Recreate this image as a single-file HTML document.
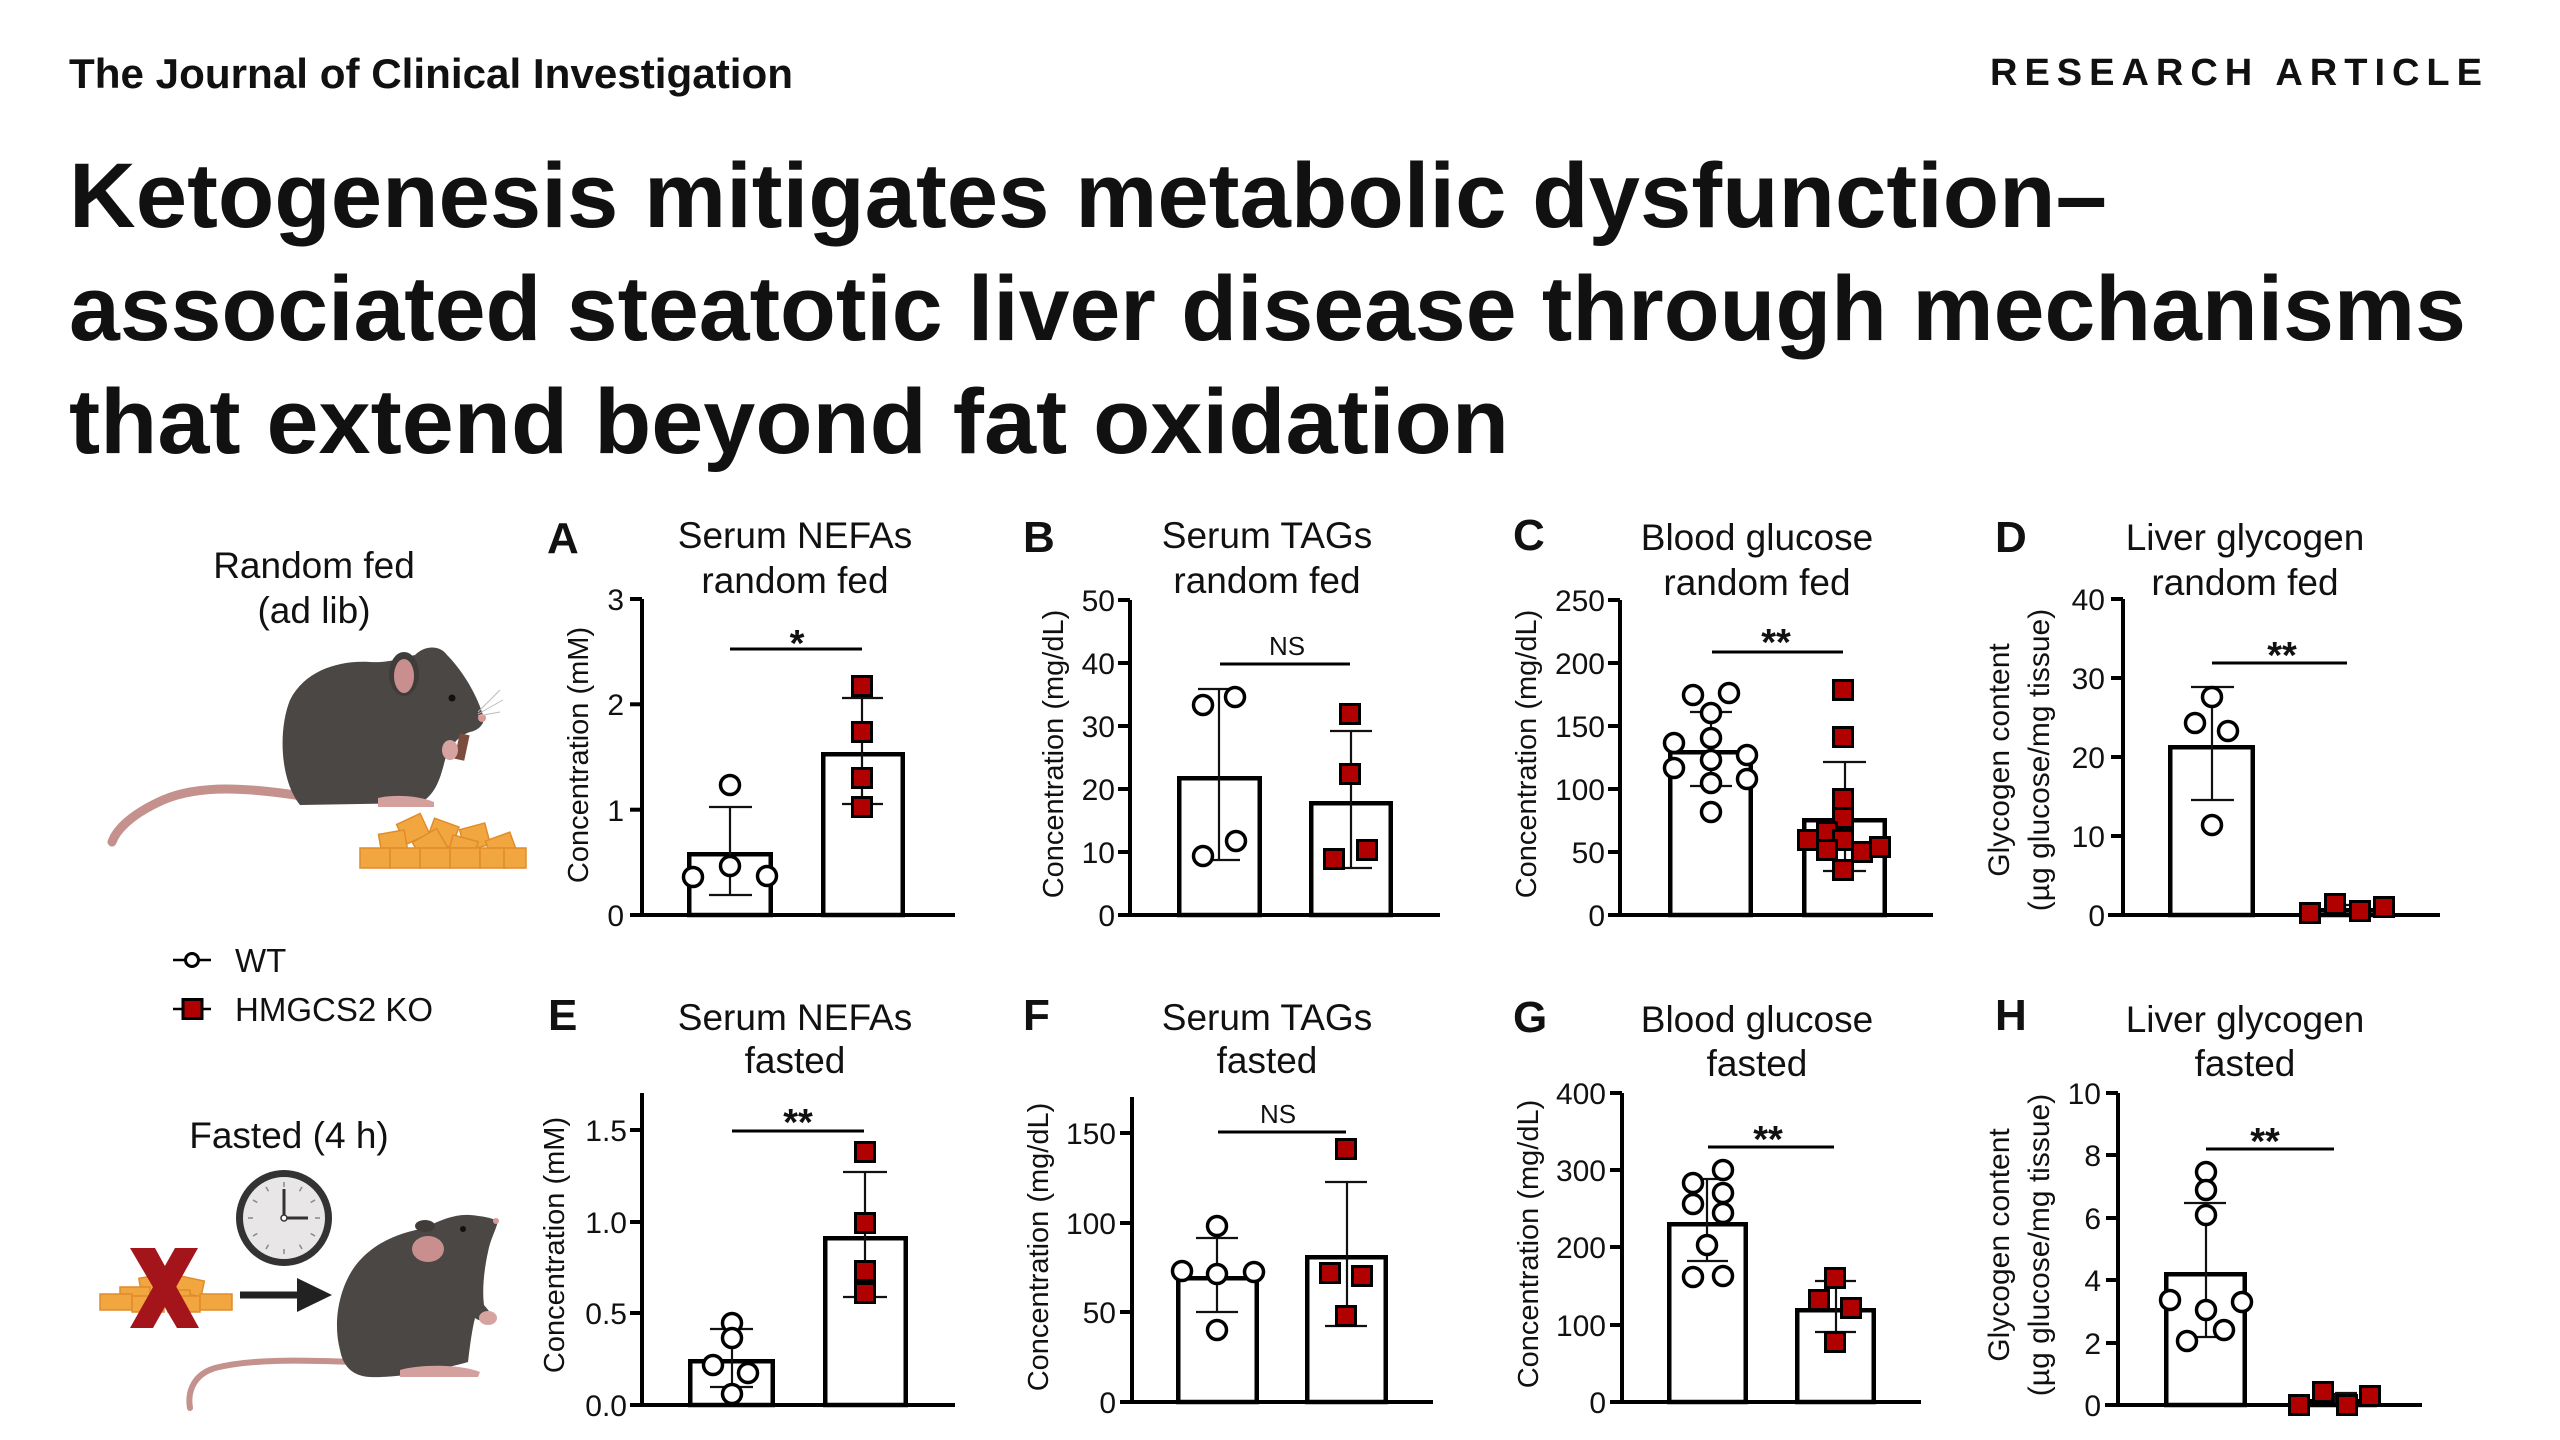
<!DOCTYPE html>
<html><head><meta charset="utf-8"><style>
html,body{margin:0;padding:0;background:#fff;}
svg{display:block;}
text{font-family:"Liberation Sans",Arial,sans-serif;fill:#111;}
</style></head><body>
<svg width="2560" height="1440" viewBox="0 0 2560 1440" xmlns="http://www.w3.org/2000/svg">
<rect width="2560" height="1440" fill="#fff"/>
<!-- Header -->
<text x="69" y="88" font-size="42" font-weight="bold" textLength="724" lengthAdjust="spacingAndGlyphs" fill="#1a1a1a">The Journal of Clinical Investigation</text>
<text x="1990" y="85" font-size="38" font-weight="bold" textLength="492" lengthAdjust="spacing" fill="#1a1a1a">RESEARCH ARTICLE</text>
<text x="69" y="227" font-size="92" font-weight="bold" textLength="2038" lengthAdjust="spacingAndGlyphs" fill="#1a1a1a">Ketogenesis mitigates metabolic dysfunction–</text>
<text x="69" y="340" font-size="92" font-weight="bold" textLength="2397" lengthAdjust="spacingAndGlyphs" fill="#1a1a1a">associated steatotic liver disease through mechanisms</text>
<text x="69" y="453" font-size="92" font-weight="bold" textLength="1440" lengthAdjust="spacingAndGlyphs" fill="#1a1a1a">that extend beyond fat oxidation</text>

<!-- Left column: random fed -->
<text x="314" y="578" font-size="37" text-anchor="middle">Random fed</text>
<text x="314" y="623" font-size="37" text-anchor="middle">(ad lib)</text>
<path d="M302,796 C250,788 200,784 163,800 C134,813 117,828 112,842" fill="none" stroke="#c4918c" stroke-width="9" stroke-linecap="round"/>
<path d="M300,805 C280,780 278,730 290,700 C305,670 340,660 370,662 C390,663 400,658 415,655 C425,645 440,645 447,655 C460,668 475,690 483,715 C486,722 480,730 470,732 C460,735 450,745 445,760 C440,780 435,795 420,803 Z" fill="#4a4745"/>
<ellipse cx="404" cy="674" rx="15" ry="22" fill="#3f3c3a"/>
<ellipse cx="404" cy="676" rx="10" ry="17" fill="#c98f8e"/>
<circle cx="452" cy="698" r="3.5" fill="#111"/>
<circle cx="482" cy="718" r="4" fill="#d89a98"/>
<g stroke="#bbb" stroke-width="1"><line x1="478" y1="712" x2="500" y2="690"/><line x1="478" y1="714" x2="503" y2="700"/><line x1="478" y1="716" x2="500" y2="712"/></g>
<rect x="457" y="734" width="10" height="26" fill="#7b4c3c" transform="rotate(12 462 747)"/>
<ellipse cx="450" cy="750" rx="8" ry="10" fill="#d7a3a0"/>
<path d="M378,798 C395,794 420,796 434,802 L434,807 L378,807 Z" fill="#d3a09d"/>
<g fill="#f2a640" stroke="#e08c2a" stroke-width="1.5">
<rect x="400" y="818" width="26" height="22" transform="rotate(-25 413 829)"/>
<rect x="430" y="822" width="26" height="22" transform="rotate(20 443 833)"/>
<rect x="462" y="826" width="26" height="22" transform="rotate(-15 475 837)"/>
<rect x="380" y="832" width="26" height="20" transform="rotate(-10 393 842)"/>
<rect x="416" y="834" width="28" height="22" transform="rotate(-30 430 845)"/>
<rect x="450" y="838" width="26" height="20" transform="rotate(15 463 848)"/>
<rect x="488" y="836" width="26" height="20" transform="rotate(-20 501 846)"/>
<rect x="360" y="848" width="30" height="20"/>
<rect x="390" y="848" width="30" height="20"/>
<rect x="420" y="848" width="30" height="20"/>
<rect x="450" y="848" width="30" height="20"/>
<rect x="480" y="848" width="26" height="20"/>
<rect x="504" y="848" width="22" height="20"/>
</g>

<!-- Legend -->
<line x1="173" y1="960" x2="211" y2="960" stroke="#000" stroke-width="2.5"/>
<circle cx="192" cy="960" r="6.5" fill="#fff" stroke="#000" stroke-width="3"/>
<text x="235" y="972" font-size="33">WT</text>
<line x1="173" y1="1009" x2="211" y2="1009" stroke="#000" stroke-width="2.5"/>
<rect x="183" y="999.5" width="19" height="19" fill="#b00000" stroke="#000" stroke-width="3"/>
<text x="235" y="1021" font-size="33">HMGCS2 KO</text>

<!-- Fasted -->
<text x="289" y="1148" font-size="37" text-anchor="middle">Fasted (4 h)</text>
<circle cx="284" cy="1218" r="44.5" fill="#e8e6e6" stroke="#333" stroke-width="7"/>
<g stroke="#888" stroke-width="1.5">
<line x1="284" y1="1182" x2="284" y2="1187"/><line x1="284" y1="1249" x2="284" y2="1254"/>
<line x1="248" y1="1218" x2="253" y2="1218"/><line x1="315" y1="1218" x2="320" y2="1218"/>
<line x1="302" y1="1187" x2="299.5" y2="1191.3"/><line x1="315" y1="1200" x2="310.7" y2="1202.5"/>
<line x1="315" y1="1236" x2="310.7" y2="1233.5"/><line x1="302" y1="1249" x2="299.5" y2="1244.7"/>
<line x1="266" y1="1249" x2="268.5" y2="1244.7"/><line x1="253" y1="1236" x2="257.3" y2="1233.5"/>
<line x1="253" y1="1200" x2="257.3" y2="1202.5"/><line x1="266" y1="1187" x2="268.5" y2="1191.3"/>
</g>
<line x1="284" y1="1218" x2="284" y2="1189" stroke="#333" stroke-width="3"/>
<line x1="284" y1="1218" x2="308" y2="1218" stroke="#333" stroke-width="3"/>
<circle cx="284" cy="1218" r="3" fill="#fff" stroke="#333" stroke-width="1.5"/>
<g fill="#f2a640" stroke="#e08c2a" stroke-width="1.5">
<rect x="140" y="1276" width="26" height="16" transform="rotate(-10 153 1284)"/>
<rect x="175" y="1278" width="28" height="16" transform="rotate(12 189 1286)"/>
<rect x="120" y="1287" width="30" height="16"/>
<rect x="160" y="1290" width="30" height="16"/>
<rect x="100" y="1294" width="32" height="16"/>
<rect x="132" y="1296" width="32" height="16"/>
<rect x="168" y="1296" width="32" height="16"/>
<rect x="200" y="1294" width="32" height="16"/>
</g>
<polygon points="130,1248 155,1248 199,1328 177,1328" fill="#a3141b"/>
<polygon points="175,1248 198,1248 153,1328 130,1328" fill="#a3141b"/>
<rect x="240" y="1291.5" width="60" height="7" fill="#222"/>
<polygon points="297,1278 332,1295 297,1312" fill="#222"/>
<path d="M352,1362 C300,1360 250,1359 215,1368 C195,1374 187,1390 190,1408" fill="none" stroke="#c4918c" stroke-width="6" stroke-linecap="round"/>
<path d="M340,1350 C332,1320 340,1280 362,1258 C382,1238 405,1232 425,1228 C440,1220 455,1214 470,1215 C482,1216 492,1218 498,1221 C496,1230 490,1240 488,1252 C484,1270 482,1290 484,1305 C490,1312 495,1318 490,1322 C482,1322 478,1320 475,1318 C472,1330 470,1345 468,1362 C440,1370 400,1378 370,1377 C352,1376 343,1366 340,1350 Z" fill="#4a4745"/>
<ellipse cx="425" cy="1226" rx="10" ry="6" fill="#3f3c3a"/>
<ellipse cx="428" cy="1249" rx="16" ry="13" fill="#c98f8e"/>
<circle cx="463" cy="1229" r="3" fill="#111"/>
<circle cx="496" cy="1221" r="3" fill="#d89a98"/>
<ellipse cx="488" cy="1318" rx="9" ry="7" fill="#d7a3a0"/>
<path d="M400,1370 C420,1364 460,1364 480,1372 L478,1377 L400,1377 Z" fill="#d3a09d"/>

<!-- ================= Panel A ================= -->
<text x="547" y="553" font-size="44" font-weight="bold">A</text>
<text x="795" y="548" font-size="37" text-anchor="middle">Serum NEFAs</text>
<text x="795" y="593" font-size="37" text-anchor="middle">random fed</text>
<text transform="translate(588,755) rotate(-90)" font-size="29" text-anchor="middle">Concentration (mM)</text>
<g font-size="30" text-anchor="end"><text x="624" y="926">0</text><text x="624" y="821">1</text><text x="624" y="715">2</text><text x="624" y="610">3</text></g>
<g fill="#fff" stroke="#000" stroke-width="4.5">
<rect x="689.25" y="854.25" width="81.5" height="60.75"/>
<rect x="823.25" y="754.25" width="79.5" height="160.75"/>
</g>
<g stroke="#000" stroke-width="4" fill="none">
<line x1="642" y1="599" x2="642" y2="917"/><line x1="630" y1="915" x2="955" y2="915"/>
<line x1="630" y1="809.7" x2="642" y2="809.7"/><line x1="630" y1="704.3" x2="642" y2="704.3"/><line x1="630" y1="599" x2="642" y2="599"/>
</g>
<g stroke="#111" stroke-width="2.2">
<line x1="730" y1="807" x2="730" y2="895"/><line x1="709" y1="807" x2="752" y2="807"/><line x1="709" y1="895" x2="752" y2="895"/>
<line x1="862" y1="698" x2="862" y2="804"/><line x1="842" y1="698" x2="883" y2="698"/><line x1="842" y1="804" x2="883" y2="804"/>
</g>
<line x1="730" y1="649" x2="862" y2="649" stroke="#000" stroke-width="3"/>
<text x="797" y="656" font-size="38" font-weight="bold" text-anchor="middle">*</text>
<g fill="#fff" stroke="#000" stroke-width="3.5">
<circle cx="693" cy="877" r="9.5"/><circle cx="730" cy="866" r="9.5"/><circle cx="767" cy="876" r="9.5"/><circle cx="730" cy="785" r="9.5"/>
</g>
<g fill="#b00000" stroke="#000" stroke-width="3">
<rect x="852.5" y="676.5" width="19" height="19"/><rect x="852.5" y="722.5" width="19" height="19"/><rect x="852.5" y="768.5" width="19" height="19"/><rect x="852.5" y="797.5" width="19" height="19"/>
</g>

<!-- ================= Panel B ================= -->
<text x="1023" y="552" font-size="44" font-weight="bold">B</text>
<text x="1267" y="548" font-size="37" text-anchor="middle">Serum TAGs</text>
<text x="1267" y="593" font-size="37" text-anchor="middle">random fed</text>
<text transform="translate(1063,754) rotate(-90)" font-size="29" text-anchor="middle">Concentration (mg/dL)</text>
<g font-size="30" text-anchor="end"><text x="1115" y="926">0</text><text x="1115" y="863">10</text><text x="1115" y="800">20</text><text x="1115" y="737">30</text><text x="1115" y="674">40</text><text x="1115" y="611">50</text></g>
<g fill="#fff" stroke="#000" stroke-width="4.5">
<rect x="1179.25" y="778.25" width="80.5" height="136.75"/>
<rect x="1311.25" y="803.25" width="79.5" height="111.75"/>
</g>
<g stroke="#000" stroke-width="4" fill="none">
<line x1="1130" y1="600" x2="1130" y2="917"/><line x1="1118" y1="915" x2="1440" y2="915"/>
<line x1="1118" y1="852" x2="1130" y2="852"/><line x1="1118" y1="789" x2="1130" y2="789"/><line x1="1118" y1="726" x2="1130" y2="726"/><line x1="1118" y1="663" x2="1130" y2="663"/><line x1="1118" y1="600" x2="1130" y2="600"/>
</g>
<g stroke="#111" stroke-width="2.2">
<line x1="1219" y1="689" x2="1219" y2="860"/><line x1="1198" y1="689" x2="1240" y2="689"/><line x1="1198" y1="860" x2="1240" y2="860"/>
<line x1="1351" y1="731" x2="1351" y2="868"/><line x1="1330" y1="731" x2="1372" y2="731"/><line x1="1330" y1="868" x2="1372" y2="868"/>
</g>
<line x1="1220" y1="664" x2="1350" y2="664" stroke="#000" stroke-width="3"/>
<text x="1287" y="655" font-size="26" text-anchor="middle">NS</text>
<g fill="#fff" stroke="#000" stroke-width="3.5">
<circle cx="1203" cy="705" r="9.5"/><circle cx="1235" cy="697" r="9.5"/><circle cx="1236" cy="841" r="9.5"/><circle cx="1203" cy="856" r="9.5"/>
</g>
<g fill="#b00000" stroke="#000" stroke-width="3">
<rect x="1340.5" y="704.5" width="19" height="19"/><rect x="1340.5" y="764.5" width="19" height="19"/><rect x="1357.5" y="840.5" width="19" height="19"/><rect x="1324.5" y="849.5" width="19" height="19"/>
</g>

<!-- ================= Panel C ================= -->
<text x="1513" y="550" font-size="44" font-weight="bold">C</text>
<text x="1757" y="550" font-size="37" text-anchor="middle">Blood glucose</text>
<text x="1757" y="595" font-size="37" text-anchor="middle">random fed</text>
<text transform="translate(1536,754) rotate(-90)" font-size="29" text-anchor="middle">Concentration (mg/dL)</text>
<g font-size="30" text-anchor="end"><text x="1605" y="926">0</text><text x="1605" y="863">50</text><text x="1605" y="800">100</text><text x="1605" y="737">150</text><text x="1605" y="674">200</text><text x="1605" y="611">250</text></g>
<g fill="#fff" stroke="#000" stroke-width="4.5">
<rect x="1670.25" y="752.25" width="80.5" height="162.75"/>
<rect x="1804.25" y="820.25" width="80.5" height="94.75"/>
</g>
<g stroke="#000" stroke-width="4" fill="none">
<line x1="1620" y1="600" x2="1620" y2="917"/><line x1="1608" y1="915" x2="1933" y2="915"/>
<line x1="1608" y1="852" x2="1620" y2="852"/><line x1="1608" y1="789" x2="1620" y2="789"/><line x1="1608" y1="726" x2="1620" y2="726"/><line x1="1608" y1="663" x2="1620" y2="663"/><line x1="1608" y1="600" x2="1620" y2="600"/>
</g>
<g stroke="#111" stroke-width="2.2">
<line x1="1711" y1="712" x2="1711" y2="786"/><line x1="1690" y1="712" x2="1732" y2="712"/><line x1="1690" y1="786" x2="1732" y2="786"/>
<line x1="1845" y1="762" x2="1845" y2="871"/><line x1="1823" y1="762" x2="1866" y2="762"/><line x1="1823" y1="871" x2="1866" y2="871"/>
</g>
<line x1="1712" y1="652" x2="1843" y2="652" stroke="#000" stroke-width="3"/>
<text x="1776" y="655" font-size="38" font-weight="bold" text-anchor="middle">**</text>
<g fill="#fff" stroke="#000" stroke-width="3.5">
<circle cx="1693" cy="695" r="9.5"/><circle cx="1729" cy="693" r="9.5"/><circle cx="1711" cy="713" r="9.5"/><circle cx="1674" cy="743" r="9.5"/><circle cx="1711" cy="738" r="9.5"/><circle cx="1747" cy="755" r="9.5"/><circle cx="1674" cy="768" r="9.5"/><circle cx="1711" cy="760" r="9.5"/><circle cx="1747" cy="779" r="9.5"/><circle cx="1711" cy="783" r="9.5"/><circle cx="1711" cy="812" r="9.5"/>
</g>
<g fill="#b00000" stroke="#000" stroke-width="3">
<rect x="1833.5" y="680.5" width="19" height="19"/><rect x="1833.5" y="727.5" width="19" height="19"/><rect x="1833.5" y="789.5" width="19" height="19"/><rect x="1833.5" y="808.5" width="19" height="19"/><rect x="1798.5" y="830.5" width="19" height="19"/><rect x="1817.5" y="822.5" width="19" height="19"/><rect x="1833.5" y="830.5" width="19" height="19"/><rect x="1817.5" y="840.5" width="19" height="19"/><rect x="1852.5" y="842.5" width="19" height="19"/><rect x="1870.5" y="837.5" width="19" height="19"/><rect x="1833.5" y="860.5" width="19" height="19"/>
</g>

<!-- ================= Panel D ================= -->
<text x="1995" y="552" font-size="44" font-weight="bold">D</text>
<text x="2245" y="550" font-size="37" text-anchor="middle">Liver glycogen</text>
<text x="2245" y="595" font-size="37" text-anchor="middle">random fed</text>
<text transform="translate(2009,760) rotate(-90)" font-size="30" text-anchor="middle">Glycogen content</text>
<text transform="translate(2049,760) rotate(-90)" font-size="30" text-anchor="middle">(µg glucose/mg tissue)</text>
<g font-size="30" text-anchor="end"><text x="2105" y="926">0</text><text x="2105" y="847">10</text><text x="2105" y="768">20</text><text x="2105" y="689">30</text><text x="2105" y="610">40</text></g>
<g fill="#fff" stroke="#000" stroke-width="4.5">
<rect x="2170.25" y="747.25" width="82.5" height="167.75"/>
<rect x="2304.25" y="910.25" width="81.5" height="4.75"/>
</g>
<g stroke="#000" stroke-width="4" fill="none">
<line x1="2123" y1="599" x2="2123" y2="917"/><line x1="2108" y1="915" x2="2440" y2="915"/>
<line x1="2111" y1="836" x2="2123" y2="836"/><line x1="2111" y1="757" x2="2123" y2="757"/><line x1="2111" y1="678" x2="2123" y2="678"/><line x1="2111" y1="599" x2="2123" y2="599"/>
</g>
<g stroke="#111" stroke-width="2.2">
<line x1="2212" y1="687" x2="2212" y2="800"/><line x1="2191" y1="687" x2="2234" y2="687"/><line x1="2191" y1="800" x2="2234" y2="800"/>
<line x1="2345" y1="905" x2="2345" y2="912"/><line x1="2335" y1="905" x2="2356" y2="905"/>
</g>
<line x1="2212" y1="663" x2="2347" y2="663" stroke="#000" stroke-width="3"/>
<text x="2282" y="668" font-size="38" font-weight="bold" text-anchor="middle">**</text>
<g fill="#fff" stroke="#000" stroke-width="3.5">
<circle cx="2212" cy="697" r="9.5"/><circle cx="2195" cy="723" r="9.5"/><circle cx="2228" cy="731" r="9.5"/><circle cx="2212" cy="825" r="9.5"/>
</g>
<g fill="#b00000" stroke="#000" stroke-width="3">
<rect x="2300.5" y="903.5" width="19" height="19"/><rect x="2325.5" y="894.5" width="19" height="19"/><rect x="2350.5" y="901.5" width="19" height="19"/><rect x="2374.5" y="897.5" width="19" height="19"/>
</g>

<!-- ================= Panel E ================= -->
<text x="548" y="1030" font-size="44" font-weight="bold">E</text>
<text x="795" y="1030" font-size="37" text-anchor="middle">Serum NEFAs</text>
<text x="795" y="1073" font-size="37" text-anchor="middle">fasted</text>
<text transform="translate(564,1245) rotate(-90)" font-size="29" text-anchor="middle">Concentration (mM)</text>
<g font-size="30" text-anchor="end"><text x="627" y="1416">0.0</text><text x="627" y="1324">0.5</text><text x="627" y="1233">1.0</text><text x="627" y="1141">1.5</text></g>
<g fill="#fff" stroke="#000" stroke-width="4.5">
<rect x="690.25" y="1361.25" width="82.5" height="43.75"/>
<rect x="825.25" y="1238.25" width="80.5" height="166.75"/>
</g>
<g stroke="#000" stroke-width="4" fill="none">
<line x1="642" y1="1093" x2="642" y2="1407"/><line x1="630" y1="1405" x2="955" y2="1405"/>
<line x1="630" y1="1313" x2="642" y2="1313"/><line x1="630" y1="1222" x2="642" y2="1222"/><line x1="630" y1="1130" x2="642" y2="1130"/>
</g>
<g stroke="#111" stroke-width="2.2">
<line x1="732" y1="1329" x2="732" y2="1387"/><line x1="710" y1="1329" x2="753" y2="1329"/><line x1="710" y1="1387" x2="753" y2="1387"/>
<line x1="865" y1="1172" x2="865" y2="1297"/><line x1="843" y1="1172" x2="887" y2="1172"/><line x1="843" y1="1297" x2="887" y2="1297"/>
</g>
<line x1="732" y1="1131" x2="864" y2="1131" stroke="#000" stroke-width="3"/>
<text x="798" y="1135" font-size="38" font-weight="bold" text-anchor="middle">**</text>
<g fill="#fff" stroke="#000" stroke-width="3.5">
<circle cx="732" cy="1323" r="9.5"/><circle cx="732" cy="1338" r="9.5"/><circle cx="713" cy="1365" r="9.5"/><circle cx="748" cy="1373" r="9.5"/><circle cx="732" cy="1394" r="9.5"/>
</g>
<g fill="#b00000" stroke="#000" stroke-width="3">
<rect x="855.5" y="1142.5" width="19" height="19"/><rect x="855.5" y="1213.5" width="19" height="19"/><rect x="855.5" y="1261.5" width="19" height="19"/><rect x="855.5" y="1283.5" width="19" height="19"/>
</g>

<!-- ================= Panel F ================= -->
<text x="1023" y="1030" font-size="44" font-weight="bold">F</text>
<text x="1267" y="1030" font-size="37" text-anchor="middle">Serum TAGs</text>
<text x="1267" y="1073" font-size="37" text-anchor="middle">fasted</text>
<text transform="translate(1048,1247) rotate(-90)" font-size="29" text-anchor="middle">Concentration (mg/dL)</text>
<g font-size="30" text-anchor="end"><text x="1116" y="1413">0</text><text x="1116" y="1323">50</text><text x="1116" y="1234">100</text><text x="1116" y="1144">150</text></g>
<g fill="#fff" stroke="#000" stroke-width="4.5">
<rect x="1178.25" y="1278.25" width="78.5" height="123.75"/>
<rect x="1307.25" y="1257.25" width="78.5" height="144.75"/>
</g>
<g stroke="#000" stroke-width="4" fill="none">
<line x1="1132" y1="1097" x2="1132" y2="1404"/><line x1="1120" y1="1402" x2="1433" y2="1402"/>
<line x1="1120" y1="1312" x2="1132" y2="1312"/><line x1="1120" y1="1223" x2="1132" y2="1223"/><line x1="1120" y1="1133" x2="1132" y2="1133"/>
</g>
<g stroke="#111" stroke-width="2.2">
<line x1="1217" y1="1238" x2="1217" y2="1312"/><line x1="1196" y1="1238" x2="1238" y2="1238"/><line x1="1196" y1="1312" x2="1238" y2="1312"/>
<line x1="1347" y1="1182" x2="1347" y2="1326"/><line x1="1325" y1="1182" x2="1367" y2="1182"/><line x1="1325" y1="1326" x2="1367" y2="1326"/>
</g>
<line x1="1218" y1="1132" x2="1346" y2="1132" stroke="#000" stroke-width="3"/>
<text x="1278" y="1123" font-size="26" text-anchor="middle">NS</text>
<g fill="#fff" stroke="#000" stroke-width="3.5">
<circle cx="1217" cy="1226" r="9.5"/><circle cx="1182" cy="1271" r="9.5"/><circle cx="1217" cy="1274" r="9.5"/><circle cx="1254" cy="1272" r="9.5"/><circle cx="1217" cy="1330" r="9.5"/>
</g>
<g fill="#b00000" stroke="#000" stroke-width="3">
<rect x="1336.5" y="1139.5" width="19" height="19"/><rect x="1320.5" y="1263.5" width="19" height="19"/><rect x="1352.5" y="1266.5" width="19" height="19"/><rect x="1336.5" y="1306.5" width="19" height="19"/>
</g>

<!-- ================= Panel G ================= -->
<text x="1513" y="1032" font-size="44" font-weight="bold">G</text>
<text x="1757" y="1032" font-size="37" text-anchor="middle">Blood glucose</text>
<text x="1757" y="1076" font-size="37" text-anchor="middle">fasted</text>
<text transform="translate(1538,1244) rotate(-90)" font-size="29" text-anchor="middle">Concentration (mg/dL)</text>
<g font-size="30" text-anchor="end"><text x="1606" y="1413">0</text><text x="1606" y="1336">100</text><text x="1606" y="1258">200</text><text x="1606" y="1181">300</text><text x="1606" y="1104">400</text></g>
<g fill="#fff" stroke="#000" stroke-width="4.5">
<rect x="1669.25" y="1224.25" width="76.5" height="177.75"/>
<rect x="1797.25" y="1310.25" width="76.5" height="91.75"/>
</g>
<g stroke="#000" stroke-width="4" fill="none">
<line x1="1622" y1="1093" x2="1622" y2="1404"/><line x1="1610" y1="1402" x2="1921" y2="1402"/>
<line x1="1610" y1="1325" x2="1622" y2="1325"/><line x1="1610" y1="1247" x2="1622" y2="1247"/><line x1="1610" y1="1170" x2="1622" y2="1170"/><line x1="1610" y1="1093" x2="1622" y2="1093"/>
</g>
<g stroke="#111" stroke-width="2.2">
<line x1="1707" y1="1179" x2="1707" y2="1261"/><line x1="1687" y1="1179" x2="1728" y2="1179"/><line x1="1687" y1="1261" x2="1728" y2="1261"/>
<line x1="1836" y1="1281" x2="1836" y2="1332"/><line x1="1815" y1="1281" x2="1856" y2="1281"/><line x1="1815" y1="1332" x2="1856" y2="1332"/>
</g>
<line x1="1708" y1="1147" x2="1834" y2="1147" stroke="#000" stroke-width="3"/>
<text x="1768" y="1152" font-size="38" font-weight="bold" text-anchor="middle">**</text>
<g fill="#fff" stroke="#000" stroke-width="3.5">
<circle cx="1723" cy="1170" r="9.5"/><circle cx="1693" cy="1183" r="9.5"/><circle cx="1723" cy="1193" r="9.5"/><circle cx="1693" cy="1204" r="9.5"/><circle cx="1723" cy="1213" r="9.5"/><circle cx="1707" cy="1245" r="9.5"/><circle cx="1693" cy="1277" r="9.5"/><circle cx="1723" cy="1276" r="9.5"/>
</g>
<g fill="#b00000" stroke="#000" stroke-width="3">
<rect x="1825.5" y="1268.5" width="19" height="19"/><rect x="1809.5" y="1290.5" width="19" height="19"/><rect x="1841.5" y="1298.5" width="19" height="19"/><rect x="1825.5" y="1332.5" width="19" height="19"/>
</g>

<!-- ================= Panel H ================= -->
<text x="1995" y="1030" font-size="44" font-weight="bold">H</text>
<text x="2245" y="1032" font-size="37" text-anchor="middle">Liver glycogen</text>
<text x="2245" y="1076" font-size="37" text-anchor="middle">fasted</text>
<text transform="translate(2009,1245) rotate(-90)" font-size="30" text-anchor="middle">Glycogen content</text>
<text transform="translate(2049,1245) rotate(-90)" font-size="30" text-anchor="middle">(µg glucose/mg tissue)</text>
<g font-size="30" text-anchor="end"><text x="2101" y="1416">0</text><text x="2101" y="1354">2</text><text x="2101" y="1291">4</text><text x="2101" y="1229">6</text><text x="2101" y="1166">8</text><text x="2101" y="1104">10</text></g>
<g fill="#fff" stroke="#000" stroke-width="4.5">
<rect x="2166.25" y="1274.25" width="78.5" height="130.75"/>
<rect x="2295.25" y="1401.25" width="79.5" height="3.75"/>
</g>
<g stroke="#000" stroke-width="4" fill="none">
<line x1="2118" y1="1093" x2="2118" y2="1407"/><line x1="2105" y1="1405" x2="2422" y2="1405"/>
<line x1="2106" y1="1343" x2="2118" y2="1343"/><line x1="2106" y1="1280" x2="2118" y2="1280"/><line x1="2106" y1="1218" x2="2118" y2="1218"/><line x1="2106" y1="1155" x2="2118" y2="1155"/><line x1="2106" y1="1093" x2="2118" y2="1093"/>
</g>
<g stroke="#111" stroke-width="2.2">
<line x1="2206" y1="1203" x2="2206" y2="1337"/><line x1="2184" y1="1203" x2="2226" y2="1203"/><line x1="2184" y1="1337" x2="2226" y2="1337"/>
<line x1="2335" y1="1393" x2="2357" y2="1393"/><line x1="2335" y1="1393" x2="2335" y2="1403"/>
</g>
<line x1="2206" y1="1149" x2="2334" y2="1149" stroke="#000" stroke-width="3"/>
<text x="2265" y="1154" font-size="38" font-weight="bold" text-anchor="middle">**</text>
<g fill="#fff" stroke="#000" stroke-width="3.5">
<circle cx="2206" cy="1172" r="9.5"/><circle cx="2206" cy="1190" r="9.5"/><circle cx="2206" cy="1215" r="9.5"/><circle cx="2170" cy="1300" r="9.5"/><circle cx="2242" cy="1302" r="9.5"/><circle cx="2206" cy="1310" r="9.5"/><circle cx="2224" cy="1330" r="9.5"/><circle cx="2187" cy="1341" r="9.5"/>
</g>
<g fill="#b00000" stroke="#000" stroke-width="3">
<rect x="2289.5" y="1395.5" width="19" height="19"/><rect x="2313.5" y="1382.5" width="19" height="19"/><rect x="2337.5" y="1395.5" width="19" height="19"/><rect x="2360.5" y="1386.5" width="19" height="19"/>
</g>
</svg>
</body></html>
